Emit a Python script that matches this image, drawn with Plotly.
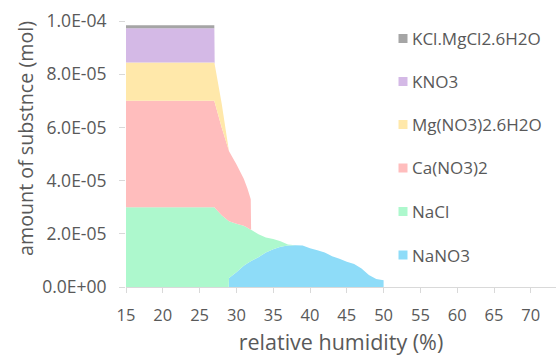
import plotly.graph_objects as go

# relative humidity (%) sample points
rh = [15, 27, 27.05, 28, 28.95, 29, 30, 31, 31.5, 31.95, 32, 33, 34, 35, 36, 37,
      38, 39, 40, 41, 42, 43, 44, 45, 46, 47, 48, 49, 50]

# amounts in units of 1e-5 mol
scale = 1e-5
nano3 = [0, 0, 0, 0, 0, 0.34, 0.55, 0.8, 0.89, 0.97, 0.98, 1.12, 1.3, 1.42, 1.51, 1.56,
         1.57, 1.56, 1.46, 1.38, 1.3, 1.16, 1.06, 0.95, 0.86, 0.7, 0.45, 0.3, 0.25]
nacl = [3.0, 3.0, 2.98, 2.7, 2.48, 2.13, 1.83, 1.5, 1.34, 1.18, 1.17, 0.86, 0.56, 0.38, 0.21, 0.04,
        0, 0, 0, 0, 0, 0, 0, 0, 0, 0, 0, 0, 0]
cano3 = [4.0, 4.0, 3.97, 3.3, 2.67, 2.63, 2.23, 1.77, 1.47, 1.15, 0, 0, 0, 0, 0, 0,
         0, 0, 0, 0, 0, 0, 0, 0, 0, 0, 0, 0, 0]
mgno3 = [1.44, 1.44, 1.42, 0.9, 0.03, 0, 0, 0, 0, 0, 0, 0, 0, 0, 0, 0,
         0, 0, 0, 0, 0, 0, 0, 0, 0, 0, 0, 0, 0]
kno3 = [1.29, 1.29, 0, 0, 0, 0, 0, 0, 0, 0, 0, 0, 0, 0, 0, 0,
        0, 0, 0, 0, 0, 0, 0, 0, 0, 0, 0, 0, 0]
kcl = [0.11, 0.11, 0, 0, 0, 0, 0, 0, 0, 0, 0, 0, 0, 0, 0, 0,
       0, 0, 0, 0, 0, 0, 0, 0, 0, 0, 0, 0, 0]

names = ["NaNO3", "NaCl", "Ca(NO3)2", "Mg(NO3)2.6H2O", "KNO3", "KCl.MgCl2.6H2O"]
series = [nano3, nacl, cano3, mgno3, kno3, kcl]
colors = ["#8EDCF8", "#ADF8CD", "#FFBDBD", "#FFE8AA", "#D4B9E6", "#A5A5A5"]

y_tickvals = [0, 2e-5, 4e-5, 6e-5, 8e-5, 1e-4]
y_ticktext = ["0.0E+00", "2.0E-05", "4.0E-05", "6.0E-05", "8.0E-05", "1.0E-04"]
x_tickvals = [15, 20, 25, 30, 35, 40, 45, 50, 55, 60, 65, 70]

fig = go.Figure()
for name, vals, col in zip(names, series, colors):
    fig.add_trace(go.Scatter(
        x=rh, y=[v * scale for v in vals], name=name, mode="none",
        stackgroup="one", fillcolor=col, showlegend=False, hoverinfo="x+y+name"))

txt = "#595959"
font_family = "Open Sans"

# plot area in pixels
L, R, T, B = 126, 0, 21, 69
W, H = 556, 356
pw, ph = W - L - R, H - T - B

def px2x(px):
    return (px - L) / pw

def py2y(py):
    return (H - B - py) / ph

shapes = []
annotations = []
legend_y = [38.5, 81.5, 124.5, 168, 211.5, 255]
for i, (name, col) in enumerate(zip(reversed(names), reversed(colors))):
    cy = legend_y[i]
    shapes.append(dict(type="rect", xref="paper", yref="paper",
                       x0=px2x(398.5), x1=px2x(407.5), y0=py2y(cy + 4.5), y1=py2y(cy - 4.5),
                       fillcolor=col, line=dict(width=0)))
    annotations.append(dict(text=name, xref="paper", yref="paper", x=px2x(410), y=py2y(cy),
                            xanchor="left", yanchor="middle", showarrow=False,
                            font=dict(family=font_family, size=17, color=txt)))

# y-axis title
annotations.append(dict(text="amount of substnce (mol)", xref="paper", yref="paper",
                        x=px2x(25), y=py2y(139), xanchor="center", yanchor="middle",
                        textangle=-90, showarrow=False,
                        font=dict(family=font_family, size=19.7, color=txt)))

fig.update_layout(
    width=W, height=H,
    margin=dict(l=L, r=R, t=T, b=B, pad=0),
    paper_bgcolor="white", plot_bgcolor="white",
    font=dict(family=font_family, color=txt, size=16),
    showlegend=False,
    shapes=shapes, annotations=annotations,
    xaxis=dict(range=[15, 15 + pw / 7.36], tickvals=x_tickvals, showgrid=False, zeroline=False,
               showline=True, linecolor="#D9D9D9", linewidth=1, automargin=False,
               ticks="outside", ticklen=5, tickcolor="#D9D9D9",
               tickfont=dict(size=16.5, color=txt), ticklabelstandoff=8,
               title=dict(text="relative humidity (%)", font=dict(size=21.5, color=txt), standoff=14)),
    yaxis=dict(range=[0, 1e-4], tickvals=y_tickvals, ticktext=y_ticktext, showgrid=False,
               zeroline=False, showline=False, automargin=False,
               ticks="outside", ticklen=6, tickcolor="#D9D9D9",
               tickfont=dict(size=17.5, color=txt), ticklabelstandoff=9),
)

fig.write_html("out.html")
